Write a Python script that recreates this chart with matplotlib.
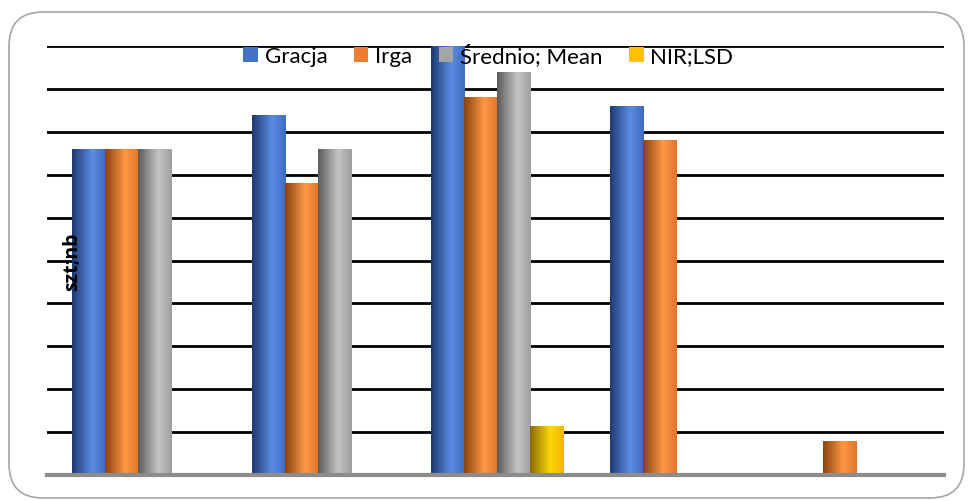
import numpy as np
import matplotlib
matplotlib.use("Agg")
import matplotlib.pyplot as plt
from matplotlib.colors import LinearSegmentedColormap
from matplotlib.patches import FancyBboxPatch, Patch

# Data (in gridline units)
groups = ["1", "2", "3", "4", "5"]
series = ["Gracja", "Irga", "Średnio; Mean", "NIR;LSD"]
gracja = [7.6, 8.4, 10.0, 8.6, 0]
irga = [7.6, 6.8, 8.8, 7.8, 0.8]
mean = [7.6, 7.6, 9.4, 0, 0]
nir = [0, 0, 1.15, 0, 0]
values = [gracja, irga, mean, nir]

base_colors = ["#4472C4", "#ED7D31", "#A5A5A5", "#FFC000"]
shades = [
    ["#1f3a72", "#5b8ce4", "#3f6cc0"],
    ["#8a4310", "#ff9844", "#de7628"],
    ["#5c5c5c", "#c4c4c4", "#a0a0a0"],
    ["#8a6a00", "#ffd60a", "#f2b600"],
]

plt.rcParams["font.family"] = ["Lato", "DejaVu Sans"]
fig = plt.figure(figsize=(9.71, 5.02), dpi=100)

# rounded chart border
border = FancyBboxPatch((9 / 971, 3 / 502), 955 / 971, 486 / 502,
                        boxstyle="round,pad=0,rounding_size=0.035",
                        transform=fig.transFigure, facecolor="white",
                        edgecolor="#a6a6a6", linewidth=1.2, zorder=-1,
                        mutation_aspect=971 / 502)
fig.patches.append(border)

ax = fig.add_axes([47 / 971, 26 / 502, 897 / 971, 429 / 502])
ax.set_facecolor("none")

x = np.arange(len(groups))
width = 0.184
offsets = (np.arange(4) - 1.5) * width + 0.008

grad = np.linspace(0, 1, 64).reshape(1, -1)
for i, vals in enumerate(values):
    cmap = LinearSegmentedColormap.from_list(
        "c%d" % i, [(0, shades[i][0]), (0.6, shades[i][1]), (1, shades[i][2])])
    bars = ax.bar(x + offsets[i], vals, width, color=base_colors[i],
                  edgecolor="none", zorder=3)
    for b in bars:
        if b.get_height() <= 0:
            continue
        bx, by = b.get_x(), b.get_y()
        im = ax.imshow(grad, cmap=cmap, aspect="auto", zorder=3.5,
                       extent=[bx, bx + b.get_width(), by, by + b.get_height()])
        im.set_clip_path(b)

ax.set_xlim(-0.5, 4.5)
ax.set_ylim(0, 10)
ax.set_yticks(np.arange(0, 11, 1))
ax.yaxis.grid(True, color="black", linewidth=2, zorder=0)
ax.set_axisbelow(True)
ax.tick_params(left=False, bottom=False, labelleft=False, labelbottom=False)
for s in ["top", "right", "left"]:
    ax.spines[s].set_visible(False)
ax.spines["bottom"].set_color("#8c8c8c")
ax.spines["bottom"].set_linewidth(3)
ax.spines["bottom"].set_zorder(4)

handles = [Patch(facecolor=c, edgecolor="none") for c in base_colors]
ax.legend(handles, series, loc="upper center", bbox_to_anchor=(0.492, 1.053),
          ncol=4, frameon=False, fontsize=16, handlelength=0.65,
          handleheight=0.65, handletextpad=0.3, columnspacing=1.2)

fig.text(72 / 971, 1 - 262 / 502, "szt;nb", rotation=90, fontweight="bold",
         family=["Open Sans", "DejaVu Sans"], fontsize=14,
         ha="center", va="center", zorder=10)

fig.savefig("out.png", dpi=100)
